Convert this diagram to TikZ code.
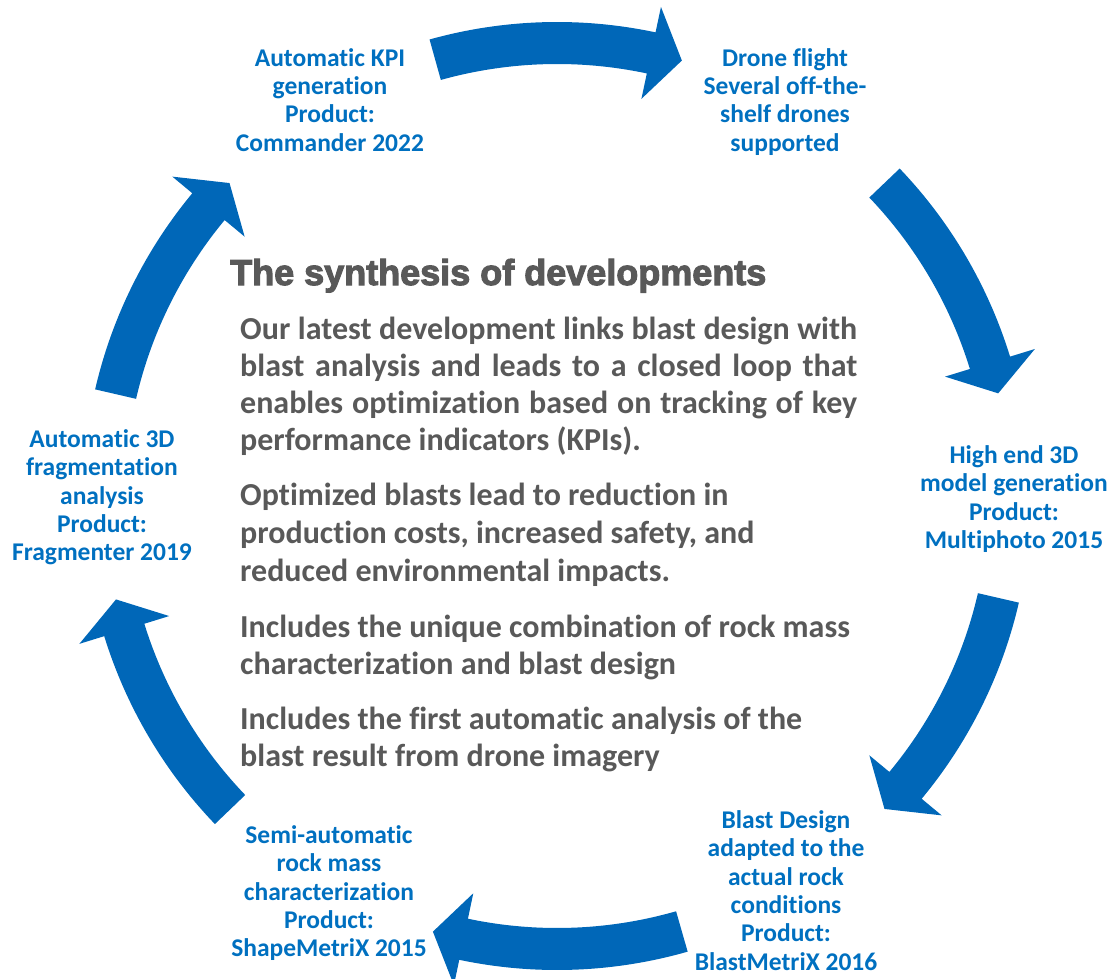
\documentclass[tikz,border=0pt]{standalone}
\usepackage{fontspec}
\setmainfont{Carlito}[Ligatures=NoCommon]
\newfontfamily\titlefont{Liberation Sans}[BoldFeatures={FakeBold=3}]
\definecolor{arrowblue}{RGB}{0,103,184}
\definecolor{labelblue}{RGB}{0,112,192}
\definecolor{bodygray}{RGB}{89,89,89}
\newcommand{\lstrut}{\rule{0pt}{20pt}}
\newcommand{\bstrut}{\rule{0pt}{28pt}}
\newcommand{\jline}[1]{\makebox[617pt][s]{#1}}
% curved block arrow: tail angle, tip angle (clockwise)
\newcommand{\cyclearrow}[2]{%
  \fill[blk] (#1:474) arc[start angle=#1, end angle=#2+4, radius=474]
    -- (#2+4:500) -- (#2:453) -- (#2+4:406) -- (#2+4:432)
    arc[start angle=#2+4, end angle=#1, radius=432] -- cycle;}
\tikzset{
  lbl/.style={font=\fontsize{25.5}{28.4}\selectfont\bfseries, text=labelblue, align=center, inner sep=0pt, anchor=north},
  body/.style={font=\fontsize{32}{37}\selectfont\bfseries, text=bodygray, align=left, inner sep=0pt, anchor=north west},
  ttl/.style={font=\fontsize{36}{40}\titlefont\bfseries, text=bodygray, inner sep=0pt, anchor=base west},
  blk/.style={fill=arrowblue}
}
\begin{document}
\begin{tikzpicture}[x=1pt,y=1pt]
\useasboundingbox (0,0) rectangle (1114,-979);
\begin{scope}[shift={(557,-496)}]
  \cyclearrow{105.6}{74}
  \cyclearrow{43.7}{13.1}
  \cyclearrow{-13}{-43.7}
  \cyclearrow{-74}{-105.9}
  \cyclearrow{-136.2}{-166.8}
  \cyclearrow{167}{136.3}
\end{scope}
\node[lbl] (kpi) at (330,-46) {\lstrut Automatic KPI\\generation\\Product:\\Commander 2022};
\node[lbl] (drone) at (785,-46) {\lstrut Drone flight\\Several off-the-\\shelf drones\\supported};
\node[lbl] (model) at (1014,-443) {\lstrut High end 3D\\model generation\\Product:\\Multiphoto 2015};
\node[lbl] (design) at (786,-808) {\lstrut Blast Design\\adapted to the\\actual rock\\conditions\\Product:\\BlastMetriX 2016};
\node[lbl] (rock) at (329,-823) {\lstrut Semi-automatic\\rock mass\\characterization\\Product:\\ShapeMetriX 2015};
\node[lbl] (frag) at (102,-427) {\lstrut Automatic 3D\\fragmentation\\analysis\\Product:\\Fragmenter 2019};
\node[ttl] (title) at (230,-285) {The synthesis of developments};
\node[body] (p1) at (240,-311) {\bstrut\jline{Our latest development links blast design with}\\
\jline{blast analysis and leads to a closed loop that}\\
\jline{enables optimization based on tracking of key}\\
performance indicators (KPIs).};
\node[body, font=\fontsize{32}{38}\selectfont\bfseries] (p2) at (240,-477) {\bstrut Optimized blasts lead to reduction in\\
production costs, increased safety, and\\
reduced environmental impacts.};
\node[body] (p3) at (240,-609) {\bstrut Includes the unique combination of rock mass\\
characterization and blast design};
\node[body] (p4) at (240,-701) {\bstrut Includes the first automatic analysis of the\\
blast result from drone imagery};
\end{tikzpicture}
\end{document}
